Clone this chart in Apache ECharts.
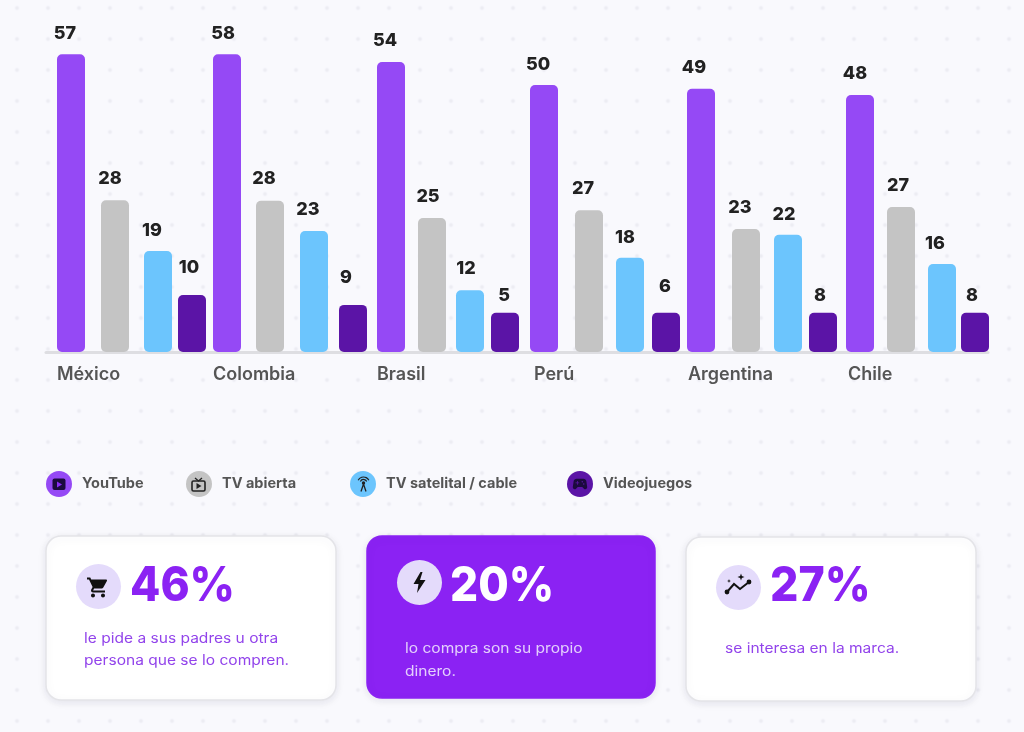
<!DOCTYPE html>
<html><head><meta charset="utf-8">
<style>
html,body{margin:0;padding:0;width:1024px;height:732px;overflow:hidden;background-color:#F9F9FD;
background-image:radial-gradient(circle,#EDEDF3 0,#EDEDF3 1.4px,rgba(237,237,243,0) 2.4px);background-size:31px 31px;background-position:1.5px -7.5px;}
#c{width:1024px;height:732px;}
</style>
<script src="https://cdn.jsdelivr.net/npm/echarts@6/dist/echarts.min.js"></script>
</head><body><div id="c"></div>
<script>
// ---- data ----
const countries = ['México','Colombia','Brasil','Perú','Argentina','Chile'];
// printed values
const youtubeLabels = [57,58,54,50,49,48];
const tvAbiertaLabels = [28,28,25,27,23,27];
const tvSatelitalLabels = [19,23,12,18,22,16];
const videojuegosLabels = [10,9,5,6,8,8];
// drawn bar lengths (the source's bars do not strictly follow the printed values)
const youtubeBars = [56.9,56.9,55.4,51,50.3,49.1];
const tvAbiertaBars = [29,28.9,25.6,27.1,23.5,27.7];
const tvSatelitalBars = [19.3,23.1,11.8,18,22.4,16.8];
const videojuegosBars = [10.9,9,7.5,7.5,7.5,7.5];
const seriesNames = ['YouTube','TV abierta','TV satelital / cable','Videojuegos'];

// ---- hand-placed layout of the source ----
const slots = [
  [71,227,391,544,701,860],[115,270,432,589,746,901],
  [158,314,470,630,788,942],[192,353,505,666,823,975]];
const nudgesX = [
  [-6,-4,-6,-6,-7,-5],[-5,-6,-4,-6,-6,-3],
  [-6,-6,-4,-5,-4,-7],[-3,-7,-1,-1,-3,-3]];
const nudgesY = [
  [-1,-1,-1,-1,-1,-1],[-2,-2,-1,-2,-1,-1],
  [0,-2,-2,0,0,0],[-7,-7,3,-6,3,3]];
const countrySlots = [57,213,377,534,688,848];
const colors = ['#9549F5','#C4C4C4','#6CC5FD','#5B14A6'];
const legendLeft = [46,186,350,567];
const F = 'Inter, "Noto Sans", sans-serif';
const PURPLE = '#8B22F3';

const bars = [youtubeBars,tvAbiertaBars,tvSatelitalBars,videojuegosBars];
const printed = [youtubeLabels,tvAbiertaLabels,tvSatelitalLabels,videojuegosLabels];

const series = seriesNames.map((name,s)=>({
  name, type:'bar', barWidth:28, barGap:'-100%', itemStyle:{color:colors[s],borderRadius:5},
  data: bars[s].map((v,i)=>({
    value:[slots[s][i],v],
    label:{show:true,position:'top',distance:11,offset:[nudgesX[s][i],nudgesY[s][i]],formatter:String(printed[s][i]),
      fontFamily:F,fontWeight:800,fontSize:18,color:'#222'}
  }))
}));

const legends = seriesNames.map((n,i)=>({
  data:[{name:n,icon:'circle'}],left:legendLeft[i],top:471,padding:0,itemWidth:26,itemHeight:26,itemGap:10,selectedMode:false,
  textStyle:{fontFamily:F,fontWeight:700,fontSize:14.5,color:'#555',padding:[7,0,0,5]}
}));

const g = [];
function card(x,y,w,h,fill){g.push({type:'rect',z:1,shape:{x,y,width:w,height:h,r:15},
  style:{fill,stroke:fill==='#fff'?'#E4E4E8':fill,lineWidth:1.5,shadowBlur:8,shadowColor:'rgba(60,60,90,0.10)',shadowOffsetY:2}});}
function txt(x,y,text,font,fill,sx){g.push({type:'text',z:3,x,y,scaleX:sx||1,style:{text,font,fill,verticalAlign:'middle',align:'left'}});}
function circ(cx,cy,r,fill,z){g.push({type:'circle',z:z||2,shape:{cx,cy,r},style:{fill}});}
let iconId = 0;
function icon(d,box,cx,cy,w,h,style){
  const name='icon'+(iconId++);
  echarts.graphic.registerShape(name,echarts.graphic.extendPath(d,{}));
  const sx=w/box[0],sy=h/box[1];
  g.push({type:name,z:7,x:cx-w/2,y:cy-h/2,scaleX:sx,scaleY:sy,style:Object.assign({fill:'#111'},style||{})});
}

card(46,536,290,164,'#fff');
card(367,536,288,162,PURPLE);
card(686,537,290,164,'#fff');
circ(98.5,586.5,22.5,'#E4DBFB');
circ(419.5,582.5,22.5,'#E4DBFB');
circ(738.5,587.5,22.5,'#E4DBFB');
const bigFont = '800 48px Inter, sans-serif';
txt(130,587,'46%',bigFont,PURPLE,0.92);
txt(450,587,'20%',bigFont,'#fff',0.92);
txt(770,587,'27%',bigFont,PURPLE,0.93);
const bodyFont = '400 14px Inter, sans-serif';
txt(84,639,'le pide a sus padres u otra',bodyFont,'#9244EB',1.11);
txt(84,661,'persona que se lo compren.',bodyFont,'#9244EB',1.11);
txt(405,649,'lo compra son su propio',bodyFont,'#E3CFFC',1.11);
txt(405,672,'dinero.',bodyFont,'#E3CFFC',1.11);
txt(725,649,'se interesa en la marca.',bodyFont,'#9244EB',1.11);

// card icons
icon('M7 18c-1.1 0-1.99.9-1.99 2S5.9 22 7 22s2-.9 2-2-.9-2-2-2zM1 2v2h2l3.6 7.59-1.35 2.45c-.16.28-.25.61-.25.96 0 1.1.9 2 2 2h12v-2H7.42c-.14 0-.25-.11-.25-.25l.03-.12.9-1.63h7.45c.75 0 1.41-.41 1.75-1.03l3.58-6.49c.08-.14.12-.31.12-.48 0-.55-.45-1-1-1H5.21l-.94-2H1zm16 16c-1.1 0-1.99.9-1.99 2s.89 2 1.99 2 2-.9 2-2-.9-2-2-2z',[24,24],98,587.5,24,24);
icon('M7 0L0 12H5L3.5 21L12 8H6.5L9 0Z',[12,21],419.5,582.5,12,21);
g.push({type:'polyline',z:4,shape:{points:[[727,592],[734,584],[740,589],[749,582]]},style:{fill:'none',stroke:'#111',lineWidth:2}});
circ(727,592,2.4,'#111',5);
circ(749,582,2.4,'#111',5);
const star='M5 0L6.3 3.7L10 5L6.3 6.3L5 10L3.7 6.3L0 5L3.7 3.7Z';
icon(star,[10,10],741,577,7,7);
icon(star,[10,10],729,581,4,4);

// legend icons
g.push({type:'rect',z:5,shape:{x:52.5,y:478.5,width:13,height:11.5,r:2},style:{fill:'#1C0A3E'}});
g.push({type:'polygon',z:6,shape:{points:[[57,481.5],[57,487.5],[62,484.5]]},style:{fill:'#8B2CF5'}});
g.push({type:'rect',z:5,shape:{x:192,y:481,width:13,height:10,r:1.5},style:{fill:'none',stroke:'#222',lineWidth:1.6}});
g.push({type:'polygon',z:6,shape:{points:[[196.5,483],[196.5,489],[201.5,486]]},style:{fill:'#222'}});
g.push({type:'polyline',z:5,shape:{points:[[195,478],[198.5,481],[202,478]]},style:{fill:'none',stroke:'#222',lineWidth:1.3}});
g.push({type:'circle',z:5,shape:{cx:363.5,cy:483,r:1.7},style:{fill:'#222'}});
g.push({type:'arc',z:5,shape:{cx:363.5,cy:483,r:3.5,startAngle:Math.PI*1.15,endAngle:Math.PI*1.85},style:{fill:'none',stroke:'#222',lineWidth:1.2}});
g.push({type:'arc',z:5,shape:{cx:363.5,cy:483,r:6,startAngle:Math.PI*1.15,endAngle:Math.PI*1.85},style:{fill:'none',stroke:'#222',lineWidth:1.2}});
g.push({type:'polyline',z:5,shape:{points:[[361,491.5],[363.5,484],[366,491.5]]},style:{fill:'none',stroke:'#222',lineWidth:1.3}});
icon('M21.58 16.09l-1.09-7.66C20.21 6.46 18.52 5 16.53 5H7.47C5.48 5 3.79 6.46 3.51 8.43l-1.09 7.66C2.2 17.63 3.39 19 4.94 19c.68 0 1.32-.27 1.8-.75L9 16h6l2.25 2.25c.48.48 1.13.75 1.8.75 1.56 0 2.75-1.37 2.53-2.91zM11 11H9v2H8v-2H6v-1h2V8h1v2h2v1zm4-1c-.55 0-1-.45-1-1s.45-1 1-1 1 .45 1 1-.45 1-1 1zm2 3c-.55 0-1-.45-1-1s.45-1 1-1 1 .45 1 1-.45 1-1 1z',[24,24],580,484,18,18,{fill:'#1C0A3E'});

const chart = echarts.init(document.getElementById('c'),null,{renderer:'canvas'});
chart.setOption({
  animation:false,
  backgroundColor:'transparent',
  legend:legends,
  grid:{left:46,right:36,top:38,bottom:380,containLabel:false},
  xAxis:{type:'value',min:46,max:988,splitLine:{show:false},axisTick:{show:false},
    axisLine:{show:true,onZero:true,lineStyle:{color:'#DEDEE2',width:3}},
    axisLabel:{show:true,customValues:countrySlots,align:'left',margin:14,
      formatter:v=>countries[countrySlots.indexOf(v)]||'',
      fontFamily:F,fontWeight:600,fontSize:18,color:'#555'}},
  yAxis:{type:'value',min:0,max:60,show:false},
  series,
  graphic:{elements:g}
});
</script></body></html>
